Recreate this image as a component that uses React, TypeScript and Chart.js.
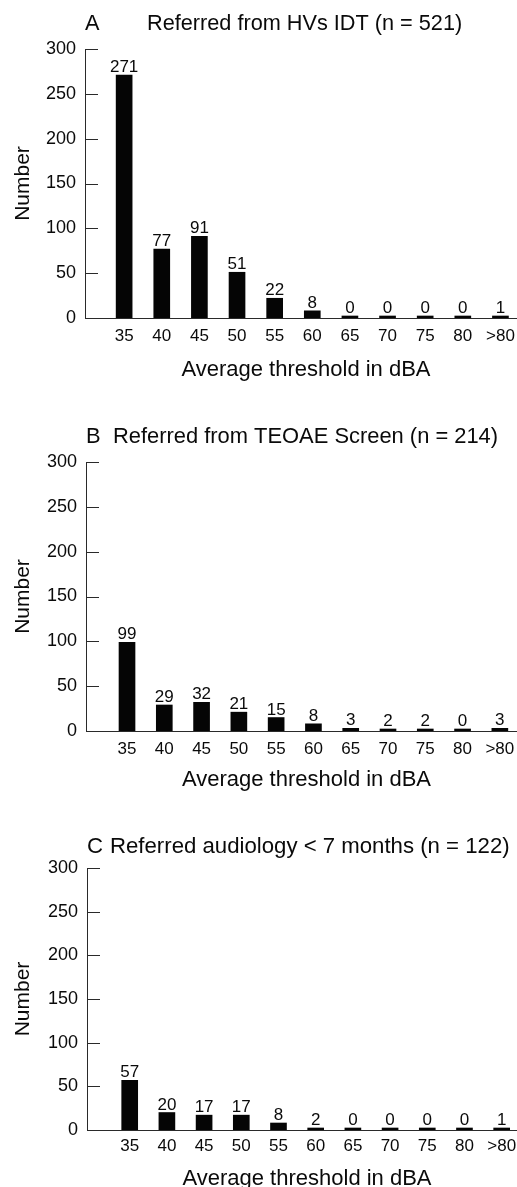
import React, { useEffect, useRef } from 'react';
import { Chart, registerables } from 'chart.js';

Chart.register(...registerables);

// ---- data ----
const categories = ['35', '40', '45', '50', '55', '60', '65', '70', '75', '80', '>80'];
const binPositions = [35, 40, 45, 50, 55, 60, 65, 70, 75, 80, 85];
const seriesA = [271, 77, 91, 51, 22, 8, 0, 0, 0, 0, 1];
const seriesB = [99, 29, 32, 21, 15, 8, 3, 2, 2, 0, 3];
const seriesC = [57, 20, 17, 17, 8, 2, 0, 0, 0, 0, 1];
const yTicks = [0, 50, 100, 150, 200, 250, 300];
const panelLetters = ['A', 'B', 'C'];
const panelTitles = [
  'Referred from HVs IDT (n = 521)',
  'Referred from TEOAE Screen (n = 214)',
  'Referred audiology < 7 months (n = 122)',
];
const xAxisTitle = 'Average threshold in dBA';
const yAxisTitle = 'Number';

// ---- layout / style ----
const FONT = '"Liberation Sans", Arial, sans-serif';
const TEXT = '#0a0a0a';
const AXIS = '#2a2a2a';
const CANVAS_W = 517;
const CANVAS_H = 400;

const panels = [
  { top: 0, axisX: 85, chartTop: 49, padBottom: 18, xHeight: 64, xMin: 29.8, xMax: 87.2, titleY: 24, letterX: 85, textX: 147, titleSize: 21.7, xTickPad: 8, xTitleShift: 5, series: seriesA },
  { top: 400, axisX: 86, chartTop: 62, padBottom: 8, xHeight: 61, xMin: 29.5, xMax: 87.3, titleY: 37, letterX: 86, textX: 113, titleSize: 21.9, xTickPad: 8, xTitleShift: 5, series: seriesB },
  { top: 800, axisX: 87, chartTop: 68, padBottom: 9, xHeight: 61, xMin: 29.26, xMax: 87.06, titleY: 47, letterX: 87, textX: 110, titleSize: 22.2, xTickPad: 6, xTitleShift: 5, series: seriesC },
];

const decorPlugin = {
  id: 'panelDecor',
  afterDraw(chart: any, _args: any, opts: any) {
    const ctx = chart.ctx as CanvasRenderingContext2D;
    const { left } = chart.chartArea;
    const yScale = chart.scales.y;
    const xScale = chart.scales.x;
    ctx.save();
    // inward tick marks on the y axis
    ctx.strokeStyle = AXIS;
    ctx.lineWidth = 1;
    yScale.ticks.forEach((t: any) => {
      const py = Math.round(yScale.getPixelForValue(t.value)) + 0.5;
      ctx.beginPath();
      ctx.moveTo(left, py);
      ctx.lineTo(left + 13, py);
      ctx.stroke();
    });
    // value labels above bars
    const meta = chart.getDatasetMeta(0);
    const ds = chart.data.datasets[0].data as any[];
    ctx.fillStyle = TEXT;
    ctx.font = `17px ${FONT}`;
    ctx.textAlign = 'center';
    ctx.textBaseline = 'alphabetic';
    meta.data.forEach((bar: any, i: number) => {
      ctx.fillText(String(ds[i].y), bar.x, bar.y - 3);
    });
    // x axis title
    ctx.font = `22px ${FONT}`;
    ctx.textBaseline = 'middle';
    ctx.fillText(opts.xTitle, (xScale.left + xScale.right) / 2 + opts.xTitleShift, xScale.bottom - 12);
    // panel title
    ctx.font = `${opts.titleSize}px ${FONT}`;
    ctx.textAlign = 'left';
    ctx.fillText(opts.letter, opts.letterX, opts.titleY);
    ctx.fillText(opts.text, opts.textX, opts.titleY);
    ctx.restore();
  },
};

function Panel({ idx }: { idx: number }) {
  const ref = useRef<HTMLCanvasElement | null>(null);
  const cfg = panels[idx];
  useEffect(() => {
    const chart = new Chart(ref.current as HTMLCanvasElement, {
      type: 'bar',
      data: {
        datasets: [
          {
            data: binPositions.map((x, i) => ({ x, y: cfg.series[i] })),
            backgroundColor: '#050505',
            borderWidth: 0,
            barThickness: 16,
            minBarLength: 2,
          } as any,
        ],
      },
      options: {
        animation: false,
        responsive: false,
        devicePixelRatio: 1,
        layout: { padding: { top: cfg.chartTop, left: 0, right: 0, bottom: cfg.padBottom } },
        plugins: {
          legend: { display: false },
          tooltip: { enabled: false },
          title: { display: false },
          panelDecor: {
            letter: panelLetters[idx],
            text: panelTitles[idx],
            letterX: cfg.letterX,
            textX: cfg.textX,
            titleY: cfg.titleY,
            titleSize: cfg.titleSize,
            xTitle: xAxisTitle,
            xTitleShift: cfg.xTitleShift,
          },
        } as any,
        scales: {
          x: {
            type: 'linear',
            offset: false,
            min: cfg.xMin,
            max: cfg.xMax,
            afterBuildTicks: (s: any) => {
              s.ticks = binPositions.map((v) => ({ value: v }));
            },
            afterFit: (s: any) => {
              s.height = cfg.xHeight;
              s.paddingLeft = 0;
              s.paddingRight = 0;
            },
            ticks: {
              callback: (_v: any, i: number) => categories[i],
              font: { family: FONT, size: 17 },
              color: TEXT,
              padding: cfg.xTickPad,
              maxRotation: 0,
              autoSkip: false,
            },
            grid: { display: false, drawTicks: false, offset: false },
            border: { display: true, color: AXIS, width: 1 },
            title: { display: false },
          },
          y: {
            type: 'linear',
            min: 0,
            max: 300,
            afterBuildTicks: (s: any) => {
              s.ticks = yTicks.map((v) => ({ value: v }));
            },
            afterFit: (s: any) => {
              s.width = cfg.axisX;
            },
            ticks: {
              font: { family: FONT, size: 18 },
              color: TEXT,
              padding: 9,
            },
            grid: { display: false, drawTicks: false },
            border: { display: true, color: AXIS, width: 1 },
            title: {
              display: true,
              text: yAxisTitle,
              font: { family: FONT, size: 21 },
              color: TEXT,
              padding: { top: 11, bottom: 0 },
            },
          },
        } as any,
      },
      plugins: [decorPlugin as any],
    });
    return () => chart.destroy();
  }, []);
  return (
    <canvas
      ref={ref}
      width={CANVAS_W}
      height={CANVAS_H}
      style={{ position: 'absolute', left: 0, top: cfg.top, width: CANVAS_W, height: CANVAS_H }}
    />
  );
}

export default function App() {
  return (
    <div
      style={{
        position: 'absolute',
        left: 0,
        top: 0,
        width: 517,
        height: 1187,
        overflow: 'hidden',
        background: '#fff',
      }}
    >
      <Panel idx={0} />
      <Panel idx={1} />
      <Panel idx={2} />
    </div>
  );
}
